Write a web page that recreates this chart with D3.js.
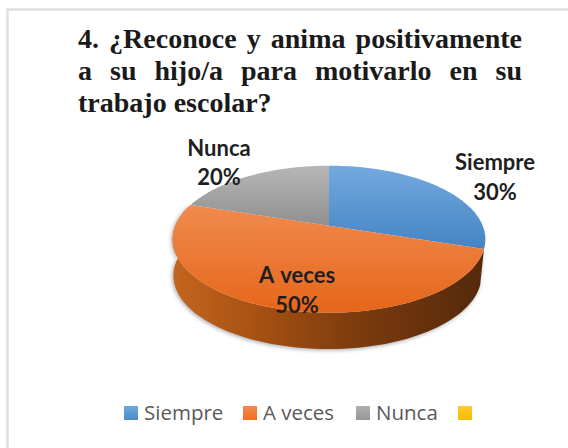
<!DOCTYPE html>
<html><head><meta charset="utf-8">
<script src="https://cdn.jsdelivr.net/npm/d3@7"></script>
<style>html,body{margin:0;padding:0;background:#fff}svg{display:block}</style>
</head><body><div id="c"></div>
<script>
const categories = ["Siempre","A veces","Nunca",""];
const values = [30,50,20,0];
const pctLabels = ["30%","50%","20%"];
const titleLines = ["4. ¿Reconoce y anima positivamente","a su hijo/a para motivarlo en su","trabajo escolar?"];

const svg = d3.select("#c").append("svg").attr("width",568).attr("height",448);
const defs = svg.append("defs");
function vgrad(id,a,b){const g=defs.append("linearGradient").attr("id",id).attr("x1",0).attr("x2",0).attr("y1",0).attr("y2",1);
  g.append("stop").attr("offset",0).attr("stop-color",a);g.append("stop").attr("offset",1).attr("stop-color",b);}
vgrad("g0","#74a9de","#4484c4");vgrad("g1","#f08a4e","#e6661a");vgrad("g2","#b6b6b6","#8f8f8f");
vgrad("l0","#6fa8dc","#4a8cca");vgrad("l1","#f58a50","#ee6f1e");vgrad("l2","#b0b0b0","#969696");vgrad("l3","#ffcb2e","#f5bb00");
const wg=defs.append("linearGradient").attr("id","wall").attr("x1",0).attr("x2",1).attr("y1",0).attr("y2",0);
[[0,"#c4651f"],[0.3,"#a34f12"],[0.6,"#7c3a0e"],[1,"#54290b"]].forEach(s=>wg.append("stop").attr("offset",s[0]).attr("stop-color",s[1]));
const blur=defs.append("filter").attr("id","blur").attr("x","-10%").attr("y","-10%").attr("width","120%").attr("height","120%");
blur.append("feGaussianBlur").attr("stdDeviation",2.2);

// frame: only the top and left edges show, running off the page
svg.append("path").attr("d","M7.5,448V9.5H568").attr("fill","none").attr("stroke","#dedede").attr("stroke-width",2.5);

// title, justified
const tleft=78, tright=522;
titleLines.forEach((t,i)=>{
  const el=svg.append("text").attr("x",tleft).attr("y",48+i*32).attr("font-family","Liberation Serif").attr("font-weight","bold").attr("font-size",28).attr("fill","#1a1a1a").text(t);
  if(i<2){const w=el.node().getComputedTextLength();el.attr("word-spacing",(tright-tleft-w)/(t.split(" ").length-1));}
});

// projective tilt of the pie disc
const cx=329, A=153.7, K=-0.1837, B=225.7, C=29.6;
function proj(theta,depth){
  const u=Math.sin(theta), v=-Math.cos(theta), w=1+K*v;
  const sx = depth?(u<0?0.995:0.975):1;
  return [cx+sx*A*u/w, (B+C*v)/w+(depth||0)];
}
const pieGen=d3.pie().sort(null).value(d=>d);
const arcs=pieGen(values);
const line=d3.line();
const samples=(a0,a1,dep)=>d3.range(0,81).map(i=>proj(a0+(a1-a0)*i/80,dep));
const DEPTH=36.3;

// shadow and wall (A veces)
const o=arcs[1];
const wallPts=samples(o.startAngle,o.endAngle,0).concat(samples(o.endAngle,o.startAngle,DEPTH));
svg.append("path").attr("d",line(wallPts)+"Z").attr("fill","#555").attr("opacity",0.55).attr("filter","url(#blur)").attr("transform","translate(-1,1)");
svg.append("path").attr("d",line(wallPts)+"Z").attr("fill","url(#wall)");

// top faces
arcs.forEach((d,i)=>{
  if(d.endAngle-d.startAngle<=0||i>2) return;
  const pts=[[cx,B]].concat(samples(d.startAngle,d.endAngle,0));
  svg.append("path").attr("d",line(pts)+"Z").attr("fill",`url(#g${i})`);
});

// data labels
const labelPos=[[495,170,200],[297,283,313],[219,156,185]];
labelPos.forEach((p,i)=>{
  [categories[i],pctLabels[i]].forEach((t,j)=>{
    svg.append("text").attr("x",p[0]).attr("y",p[1+j]).attr("text-anchor","middle").attr("font-family","Lato").attr("font-weight","bold").attr("font-size",22).attr("word-spacing",2).attr("fill","#1f1f1f").text(t);
  });
});

// legend
const legendX=[124,243,356,458];
categories.forEach((c,i)=>{
  svg.append("rect").attr("x",legendX[i]).attr("y",406).attr("width",14).attr("height",14).attr("fill",`url(#l${i})`);
  if(c) svg.append("text").attr("x",legendX[i]+20).attr("y",420).attr("font-family","Open Sans").attr("font-size",20.5).attr("fill","#595959").text(c);
});
</script></body></html>
